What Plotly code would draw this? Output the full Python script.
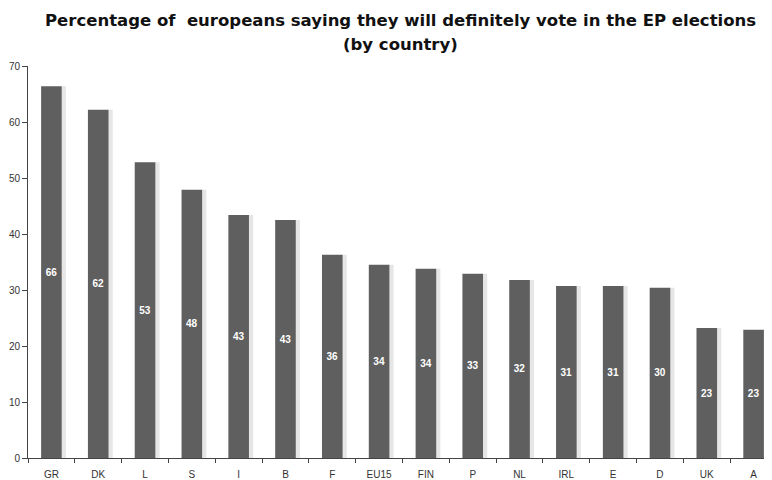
import plotly.graph_objects as go

countries = ["GR", "DK", "L", "S", "I", "B", "F", "EU15", "FIN", "P", "NL", "IRL", "E", "D", "UK", "A"]
values = [66.4, 62.2, 52.8, 47.9, 43.4, 42.5, 36.3, 34.5, 33.8, 32.9, 31.8, 30.7, 30.7, 30.4, 23.2, 22.9]
labels = ["66", "62", "53", "48", "43", "43", "36", "34", "34", "33", "32", "31", "31", "30", "23", "23"]
y_ticks = [0, 10, 20, 30, 40, 50, 60, 70]

fig = go.Figure()
# soft shadow to the right of each bar
fig.add_trace(go.Bar(
    x=countries, y=values, width=0.1, offset=0.21,
    marker=dict(color="#e6e6e6", line=dict(width=0)),
    hoverinfo="skip", showlegend=False,
))
fig.add_trace(go.Bar(
    x=countries, y=values, width=0.44, offset=-0.22,
    marker=dict(color="#5f5f5f", line=dict(width=0)),
    text=labels, textposition="inside", insidetextanchor="middle",
    textangle=0,
    textfont=dict(family="Arial, Liberation Sans, sans-serif", size=10, color="white", weight="bold"),
    showlegend=False,
))

M_L, M_R, M_T, M_B = 20, 3, 58, 30
plot_h = 480 - M_T - M_B
plot_w = 772 - M_L - M_R


def ypix(py):
    return (480 - M_B - py) / plot_h


def xpix(px):
    return (px - M_L) / plot_w


fig.update_layout(
    width=772, height=480,
    margin=dict(l=M_L, r=M_R, t=M_T, b=M_B, autoexpand=False),
    barmode="overlay",
    plot_bgcolor="white", paper_bgcolor="white",
    font=dict(family="Arial, Liberation Sans, sans-serif", size=10, color="#333333"),
    xaxis=dict(
        type="category", range=[-0.5, 15.5], automargin=False,
        showline=True, linecolor="#444444", linewidth=1,
        ticks="outside", ticklen=4, tickcolor="#444444", tickson="boundaries",
        ticklabelstandoff=7,
        showgrid=False, zeroline=False,
        tickfont=dict(size=10, color="#333333"),
    ),
    yaxis=dict(
        range=[0, 70], tickvals=y_ticks, automargin=False,
        showline=True, linecolor="#444444", linewidth=1,
        ticks="outside", ticklen=5, tickcolor="#444444",
        showgrid=False, zeroline=False,
        tickfont=dict(size=10, color="#333333"),
    ),
    annotations=[
        dict(text="<b>Percentage of  europeans saying they will definitely vote in the EP elections</b>",
             x=xpix(392), y=ypix(12), xref="paper", yref="paper", showarrow=False, yanchor="middle",
             font=dict(family="DejaVu Sans, sans-serif", size=16.5, color="#111111")),
        dict(text="<b>(by country)</b>",
             x=xpix(392), y=ypix(36), xref="paper", yref="paper", showarrow=False, yanchor="middle",
             font=dict(family="DejaVu Sans, sans-serif", size=16.5, color="#111111")),
    ],
)

fig.write_html("out.html")
